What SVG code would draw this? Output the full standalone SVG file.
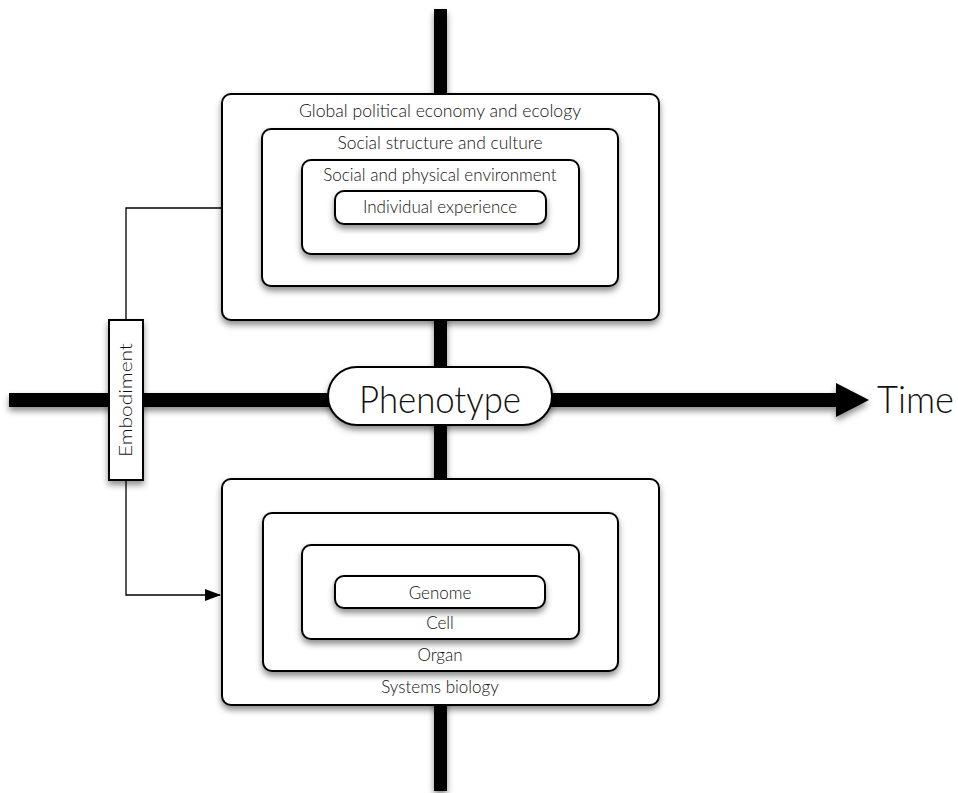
<svg xmlns="http://www.w3.org/2000/svg" width="958" height="793" viewBox="0 0 958 793">
<defs>
<filter id="sh" x="-20%" y="-20%" width="140%" height="150%">
<feDropShadow dx="0" dy="4" stdDeviation="3" flood-color="#000" flood-opacity="0.45"/>
</filter>
<marker id="ah" markerWidth="16" markerHeight="12" refX="15" refY="6" orient="auto" markerUnits="userSpaceOnUse">
<path d="M0,0 L16,6 L0,12 Z" fill="#000"/>
</marker>
<style>
.box{fill:#fff;stroke:#000;stroke-width:2;filter:url(#sh)}
.t{font-family:Lato,"Liberation Sans",sans-serif;font-weight:300;fill:#111;text-anchor:middle;font-size:17px}
.big{font-size:38px}
.conn{fill:none;stroke:#000;stroke-width:1.3}
</style>
</defs>
<rect width="958" height="793" fill="#fff"/>
<g id="axes" filter="url(#sh)">
<rect x="434" y="9" width="13" height="782" fill="#000"/>
<rect x="9" y="393" width="829" height="14" fill="#000"/>
<polygon points="836,383 869,400 836,417" fill="#000"/>
</g>
<g id="connectors">
<polyline class="conn" points="126,320 126,208 222,208"/>
<polyline class="conn" points="126,480 126,595 220,595" marker-end="url(#ah)"/>
</g>
<g id="global">
<rect class="box" x="222" y="94" width="437" height="226" rx="9"/>
<text class="t" x="440" y="117" textLength="282" lengthAdjust="spacingAndGlyphs">Global political economy and ecology</text>
</g>
<g id="social-structure">
<rect class="box" x="262" y="129" width="356" height="157" rx="9"/>
<text class="t" x="440" y="149" textLength="205" lengthAdjust="spacingAndGlyphs">Social structure and culture</text>
</g>
<g id="environment">
<rect class="box" x="302" y="160" width="277" height="94" rx="9"/>
<text class="t" x="440" y="181">Social and physical environment</text>
</g>
<g id="individual">
<rect class="box" x="335" y="191" width="211" height="33" rx="9"/>
<text class="t" x="440" y="213">Individual experience</text>
</g>
<g id="embodiment">
<rect class="box" x="109" y="320" width="34" height="160"/>
<text class="t" transform="translate(132,400) rotate(-90)" textLength="114" lengthAdjust="spacingAndGlyphs">Embodiment</text>
</g>
<g id="phenotype">
<rect class="box" x="328" y="367" width="224" height="58" rx="29"/>
<text class="t big" x="440" y="413" textLength="162" lengthAdjust="spacingAndGlyphs">Phenotype</text>
</g>
<g id="time">
<text class="t big" x="877" y="413" style="text-anchor:start" textLength="77" lengthAdjust="spacingAndGlyphs">Time</text>
</g>
<g id="systems">
<rect class="box" x="222" y="479" width="437" height="226" rx="9"/>
<text class="t" x="440" y="693">Systems biology</text>
</g>
<g id="organ">
<rect class="box" x="263" y="513" width="355" height="158" rx="9"/>
<text class="t" x="440" y="661">Organ</text>
</g>
<g id="cell">
<rect class="box" x="302" y="545" width="277" height="94" rx="9"/>
<text class="t" x="440" y="629">Cell</text>
</g>
<g id="genome">
<rect class="box" x="335" y="576" width="210" height="32" rx="9"/>
<text class="t" x="440" y="599">Genome</text>
</g>
</svg>
